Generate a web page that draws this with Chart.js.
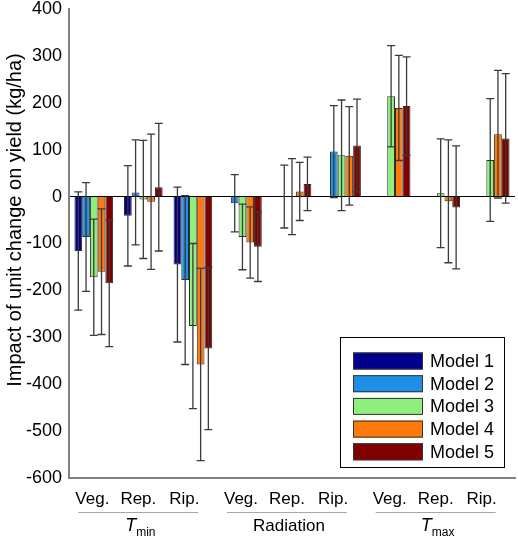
<!DOCTYPE html>
<html>
<head>
<meta charset="utf-8">
<script src="https://cdn.jsdelivr.net/npm/chart.js@4.4.0/dist/chart.umd.min.js"></script>
<style>
  body { margin: 0; background: #fff; }
  #wrap { width: 518px; height: 539px; }
</style>
</head>
<body>
<div id="wrap"><canvas id="chart"></canvas></div>
<script>
// categories: growth stage within each weather variable
const stages = ['Veg.', 'Rep.', 'Rip.', 'Veg.', 'Rep.', 'Rip.', 'Veg.', 'Rep.', 'Rip.'];
const variables = ['Tmin', 'Radiation', 'Tmax'];
const modelNames = ['Model 1', 'Model 2', 'Model 3', 'Model 4', 'Model 5'];
const yTitle = 'Impact of unit change on yield (kg/ha)';

// mean impact (kg/ha) per model
const model1 = [-116, -41, -145, null, null, null, null, null, null];
const model2 = [-86, 9, -178, -14, 0, 96, null, null, null];
const model3 = [-172, -6, -276, -86, 0, 88, 214, 7, 78];
const model4 = [-160, -11, -358, -98, 11, 87, 189, -10, 133];
const model5 = [-185, 20, -324, -107, 27, 109, 193, -23, 124];

// error bar half-widths
const model1Err = [126, 107, 165, null, null, null, null, null, null];
const model2Err = [116, 112, 180, 61, 67, 98, null, null, null];
const model3Err = [124, 126, 176, 70, 81, 118, 108, 116, 131];
const model4Err = [134, 144, 205, 76, 62, 105, 112, 131, 136];
const model5Err = [135, 136, 173, 74, 57, 99, 105, 131, 138];

const yTicks = [-600, -500, -400, -300, -200, -100, 0, 100, 200, 300, 400];

const colors = ['#00008b', '#1e8fe6', '#8ef07a', '#ff7a0a', '#800000'];
const values = [model1, model2, model3, model4, model5];
const errors = [model1Err, model2Err, model3Err, model4Err, model5Err];

const FONT = "'Liberation Sans', Arial, sans-serif";

// error bars on top of the bars
const errorBars = {
    id: 'errorBars',
    afterDatasetsDraw(chart) {
        const ctx = chart.ctx;
        const y = chart.scales.y;
        ctx.save();
        ctx.strokeStyle = '#3a3a3a';
        ctx.lineWidth = 1.3;
        chart.data.datasets.forEach((ds, i) => {
            const meta = chart.getDatasetMeta(i);
            meta.data.forEach((bar, j) => {
                const v = ds.data[j];
                const e = ds.err[j];
                if (v == null || e == null) return;
                const top = y.getPixelForValue(v + e);
                const bot = y.getPixelForValue(v - e);
                ctx.beginPath();
                ctx.moveTo(bar.x, top); ctx.lineTo(bar.x, bot);
                ctx.moveTo(bar.x - 4, top); ctx.lineTo(bar.x + 4, top);
                ctx.moveTo(bar.x - 4, bot); ctx.lineTo(bar.x + 4, bot);
                ctx.stroke();
            });
        });
        ctx.restore();
    }
};

// stage labels, group underline, group names and the y title
const groupLabels = {
    id: 'groupLabels',
    afterDraw(chart) {
        const ctx = chart.ctx;
        const x = chart.scales.x;
        const base = chart.chartArea.bottom;
        ctx.save();
        ctx.fillStyle = '#000';
        ctx.textBaseline = 'middle';
        ctx.textAlign = 'center';
        variables.forEach((name, g) => {
            const mid = x.getPixelForValue(g * 3 + 1) - 5;
            for (let k = 0; k < 3; k++) {
                ctx.font = '17px ' + FONT;
                ctx.fillText(stages[g * 3 + k], mid + (k - 1) * 46, base + 21);
            }
            ctx.strokeStyle = '#a8a8a8';
            ctx.lineWidth = 1;
            ctx.beginPath();
            ctx.moveTo(mid - 60, base + 34.5);
            ctx.lineTo(mid + 60, base + 34.5);
            ctx.stroke();
            const ty = base + 48;
            if (name === 'Radiation') {
                ctx.font = '17px ' + FONT;
                ctx.fillText(name, mid + 2, ty);
            } else {
                const sub = name === 'Tmin' ? 'min' : 'max';
                ctx.textAlign = 'left';
                ctx.font = 'italic 18px ' + FONT;
                const tw = ctx.measureText('T').width;
                ctx.font = '12px ' + FONT;
                const sw = ctx.measureText(sub).width;
                const start = mid + 2 - (tw + sw) / 2;
                ctx.font = 'italic 18px ' + FONT;
                ctx.fillText('T', start, ty);
                ctx.font = '12px ' + FONT;
                ctx.fillText(sub, start + tw, ty + 7);
                ctx.textAlign = 'center';
            }
        });
        // y axis title, sits a bit above the middle of the plot
        ctx.translate(15, chart.chartArea.top + 211);
        ctx.rotate(-Math.PI / 2);
        ctx.font = '20px ' + FONT;
        ctx.textAlign = 'center';
        ctx.fillText(yTitle, 0, 0);
        ctx.restore();
    }
};

// boxed legend in lower right of the plot
const boxLegend = {
    id: 'boxLegend',
    afterDraw(chart) {
        const ctx = chart.ctx;
        const area = chart.chartArea;
        const w = 164, h = 130;
        const left = area.right - 11 - w;
        const top = area.bottom - 11 - h;
        ctx.save();
        ctx.fillStyle = '#fff';
        ctx.fillRect(left, top, w, h);
        ctx.strokeStyle = '#000';
        ctx.lineWidth = 1;
        ctx.strokeRect(left + 0.5, top + 0.5, w, h);
        ctx.font = '18px ' + FONT;
        ctx.textBaseline = 'middle';
        chart.data.datasets.forEach((ds, i) => {
            const cy = top + 24 + i * 22.7;
            ctx.fillStyle = ds.backgroundColor;
            ctx.fillRect(left + 13, cy - 8.5, 70, 17);
            ctx.strokeStyle = '#333';
            ctx.strokeRect(left + 13.5, cy - 8, 69, 16);
            ctx.fillStyle = '#000';
            ctx.fillText(ds.label, left + 90, cy + 1);
        });
        ctx.restore();
    }
};

const datasets = modelNames.map((name, i) => ({
    label: name,
    data: values[i],
    err: errors[i],
    backgroundColor: colors[i],
    borderColor: '#2a2a2a',
    borderWidth: 1,
    categoryPercentage: 0.78,
    barPercentage: 1.0
}));

new Chart(document.getElementById('chart'), {
    type: 'bar',
    data: { labels: stages, datasets: datasets },
    options: {
        responsive: true,
        maintainAspectRatio: false,
        animation: false,
        layout: { padding: { top: 9, right: 3, left: 0, bottom: 0 } },
        plugins: { legend: { display: false }, tooltip: { enabled: false } },
        scales: {
            x: {
                grid: { display: false, drawTicks: false },
                border: { display: true, color: '#808080', width: 2 },
                ticks: { display: false },
                afterFit: s => { s.height = 61; }
            },
            y: {
                min: -600,
                max: 400,
                afterBuildTicks: s => { s.ticks = yTicks.map(v => ({ value: v })); },
                grid: {
                    drawTicks: false,
                    color: c => (c.tick && c.tick.value === 0) ? '#000' : 'rgba(0,0,0,0)',
                    lineWidth: 1
                },
                border: { display: true, color: '#808080', width: 2 },
                ticks: { color: '#000', padding: 7, font: { size: 18, family: FONT } },
                afterFit: s => {
                    s.width = 69;
                    s.paddingTop = 0;
                    s.paddingBottom = 0;
                }
            }
        }
    },
    plugins: [errorBars, groupLabels, boxLegend]
});
</script>
</body>
</html>
